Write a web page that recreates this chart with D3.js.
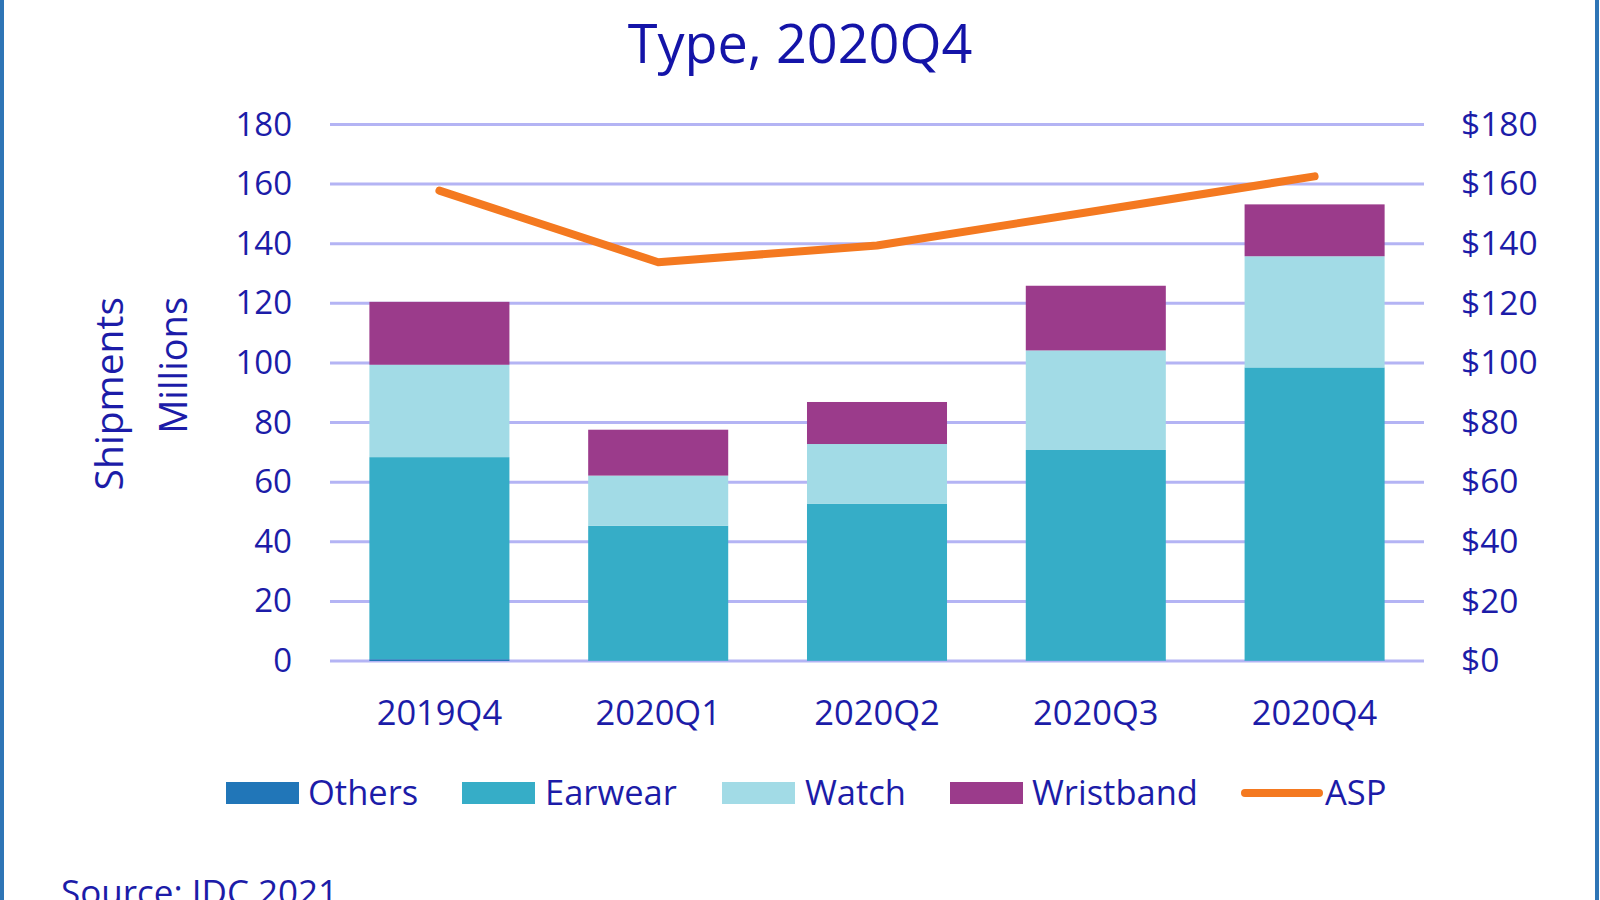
<!DOCTYPE html>
<html>
<head>
<meta charset="utf-8">
<script src="https://cdn.jsdelivr.net/npm/d3@7"></script>
<style>
  html, body { margin: 0; padding: 0; background: #fff; }
  svg { display: block; }
  text { font-family: "Open Sans", "Noto Sans", sans-serif; fill: #1c1ca8; }
</style>
</head>
<body>
<svg id="chart" width="1600" height="900"></svg>
<script>
// ---- data ----
const quarters = ["2019Q4", "2020Q1", "2020Q2", "2020Q3", "2020Q4"];
const others    = [0.6, 0.1, 0.1, 0.1, 0.1];
const earwear   = [67.8, 45.3, 52.6, 70.7, 98.4];
const watch     = [31.0, 16.8, 20.1, 33.4, 37.3];
const wristband = [21.1, 15.4, 14.1, 21.7, 17.4];
const asp       = [157.8, 133.8, 139.4, 151.0, 162.6];
const leftTicks  = [0, 20, 40, 60, 80, 100, 120, 140, 160, 180];
const rightTicks = [0, 20, 40, 60, 80, 100, 120, 140, 160, 180];
const seriesNames = ["Others", "Earwear", "Watch", "Wristband"];
const seriesColors = ["#2176b8", "#36adc7", "#a2dbe6", "#9b3b8b"];
const aspColor = "#f47920";

// ---- layout ----
const svg = d3.select("#chart");
const plot = { left: 330, right: 1424, top: 124.5, bottom: 661 };

const x = d3.scaleBand().domain(quarters)
  .range([plot.left, plot.right]).paddingInner(0.36).paddingOuter(0.18);
const y = d3.scaleLinear().domain([0, 180]).range([plot.bottom, plot.top]);
const y2 = d3.scaleLinear().domain([0, 180]).range([plot.bottom, plot.top]);

// border frame
svg.append("rect").attr("x", 2).attr("y", -10).attr("width", 1595).attr("height", 930)
  .attr("fill", "none").attr("stroke", "#2e75b6").attr("stroke-width", 4);

// title (second line visible)
svg.append("text").attr("x", 800).attr("y", 63).attr("text-anchor", "middle")
  .style("font-size", "54px").style("fill", "#1414a8").text("Type, 2020Q4");

// gridlines
svg.append("g").selectAll("line").data(leftTicks).join("line")
  .attr("x1", plot.left).attr("x2", plot.right)
  .attr("y1", d => y(d)).attr("y2", d => y(d))
  .attr("stroke", "#b4b4f4").attr("stroke-width", 3);

// left axis labels
const leftAxis = d3.axisLeft(y).tickValues(leftTicks).tickSize(0).tickPadding(38);
const gl = svg.append("g").attr("transform", `translate(${plot.left},0)`).call(leftAxis);
gl.select(".domain").remove();
gl.selectAll("text").style("font-size", "33px").style("font-family", null).attr("fill", null);

// right axis labels
const rightAxis = d3.axisRight(y2).tickValues(rightTicks).tickSize(0).tickPadding(37)
  .tickFormat(d => "$" + d);
const gr = svg.append("g").attr("transform", `translate(${plot.right},0)`).call(rightAxis);
gr.select(".domain").remove();
gr.selectAll("text").style("font-size", "33.5px").style("font-family", null).attr("fill", null);

// x axis labels
const xAxis = d3.axisBottom(x).tickSize(0).tickPadding(40);
const gx = svg.append("g").attr("transform", `translate(0,${plot.bottom})`).call(xAxis);
gx.select(".domain").remove();
gx.selectAll("text").style("font-size", "34.5px").style("font-family", null).attr("fill", null);

// stacked bars
const rows = quarters.map((q, i) => ({ q, Others: others[i], Earwear: earwear[i], Watch: watch[i], Wristband: wristband[i] }));
const stack = d3.stack().keys(seriesNames)(rows);
svg.append("g").selectAll("g").data(stack).join("g")
  .attr("fill", (d, i) => seriesColors[i])
  .selectAll("rect").data(d => d).join("rect")
  .attr("x", d => x(d.data.q))
  .attr("width", x.bandwidth())
  .attr("y", d => y(d[1]))
  .attr("height", d => y(d[0]) - y(d[1]));

// ASP line
const line = d3.line().x((d, i) => x(quarters[i]) + x.bandwidth() / 2).y(d => y2(d));
svg.append("path").datum(asp).attr("d", line)
  .attr("fill", "none").attr("stroke", aspColor).attr("stroke-width", 8)
  .attr("stroke-linecap", "round").attr("stroke-linejoin", "round");

// axis titles
svg.append("text").attr("transform", "translate(123,297) rotate(-90)")
  .attr("text-anchor", "end").style("font-size", "39px").text("Shipments");
svg.append("text").attr("transform", "translate(187,297) rotate(-90)")
  .attr("text-anchor", "end").style("font-size", "38px").text("Millions");

// legend
const legend = [
  { name: "Others", type: "rect", color: seriesColors[0], sx: 226, tx: 308 },
  { name: "Earwear", type: "rect", color: seriesColors[1], sx: 462, tx: 545 },
  { name: "Watch", type: "rect", color: seriesColors[2], sx: 722, tx: 805 },
  { name: "Wristband", type: "rect", color: seriesColors[3], sx: 950, tx: 1032 },
  { name: "ASP", type: "line", color: aspColor, sx: 1245, tx: 1325 }
];
const ly = 793;
const lg = svg.append("g");
legend.forEach(it => {
  if (it.type === "rect") {
    lg.append("rect").attr("x", it.sx).attr("y", ly - 11).attr("width", 73).attr("height", 22).attr("fill", it.color);
  } else {
    lg.append("line").attr("x1", it.sx).attr("x2", it.sx + 74).attr("y1", ly).attr("y2", ly)
      .attr("stroke", it.color).attr("stroke-width", 8).attr("stroke-linecap", "round");
  }
  lg.append("text").attr("x", it.tx).attr("y", ly + 12).style("font-size", "34.5px").text(it.name);
});

// source (cropped at the bottom edge, as in the reference)
svg.append("text").attr("x", 61).attr("y", 905).style("font-size", "35px").text("Source: IDC 2021");
</script>
</body>
</html>
